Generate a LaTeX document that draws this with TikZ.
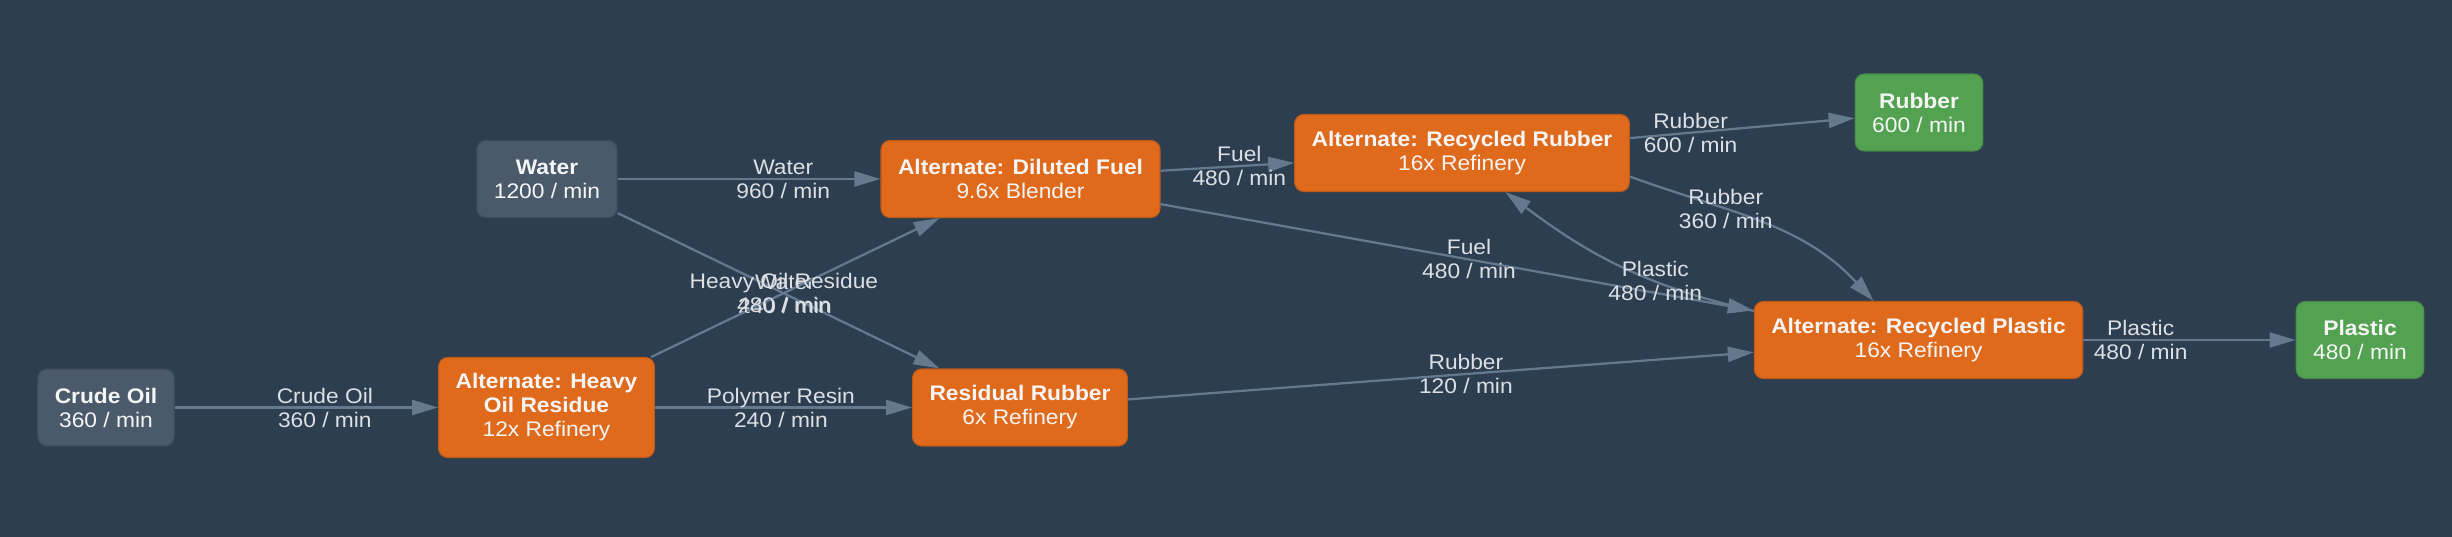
\documentclass[tikz,border=0pt]{standalone}
\usepackage{fontspec}
\setmainfont{Liberation Sans}[FakeStretch=1.08]
\usetikzlibrary{arrows.meta}

\definecolor{bgdark}{RGB}{44,62,80}
\definecolor{srcgray}{RGB}{74,90,106}
\definecolor{recipeorange}{RGB}{224,106,28}
\definecolor{sinkgreen}{RGB}{82,162,82}
\definecolor{flowline}{RGB}{100,120,142}
\definecolor{nodetext}{RGB}{245,245,245}
\definecolor{ratetext}{RGB}{220,224,228}

\begin{document}
\begin{tikzpicture}[x=0.02cm,y=0.02cm,
  box/.style={rounded corners=0.18cm, align=center, inner xsep=0.34cm, inner ysep=0pt,
    minimum height=1.54cm, line width=0.6pt, text=nodetext, font=\fontsize{12}{13.66}\selectfont},
  srcbox/.style={box, fill=srcgray, draw=srcgray!85!black},
  recipe/.style={box, fill=recipeorange, draw=recipeorange!85!black},
  sinkbox/.style={box, fill=sinkgreen, draw=sinkgreen!85!black},
  flow/.style={draw=flowline, line width=1.3pt, -{Triangle[length=0.52cm,width=0.3cm]}},
  rate/.style={align=center, text=ratetext, font=\fontsize{12}{13.66}\selectfont}]

% Background
\fill[bgdark] (0,0) rectangle (2452,537);

% Inputs
\node[srcbox] (crude) at (106,129.5) {\textbf{Crude Oil}\\360 / min};
\node[srcbox] (water) at (547,358) {\textbf{Water}\\1200 / min};

% Recipes
\node[recipe,minimum height=2cm] (heavy) at (546.5,129.5) {\textbf{Alternate: Heavy}\\\textbf{Oil Residue}\\12x Refinery};
\node[recipe] (dilfuel) at (1020.5,358) {\textbf{Alternate: Diluted Fuel}\\9.6x Blender};
\node[recipe] (resrubber) at (1020,129.5) {\textbf{Residual Rubber}\\6x Refinery};
\node[recipe] (recrubber) at (1462,384) {\textbf{Alternate: Recycled Rubber}\\16x Refinery};
\node[recipe] (recplastic) at (1918.5,197) {\textbf{Alternate: Recycled Plastic}\\16x Refinery};

% Outputs
\node[sinkbox] (rubber) at (1919,424.5) {\textbf{Rubber}\\600 / min};
\node[sinkbox] (plastic) at (2360,197) {\textbf{Plastic}\\480 / min};

% Flows
\draw[flow] (crude) -- (heavy) node[rate,pos=0.57] {Crude Oil\\360 / min};
\draw[flow] (water) -- (dilfuel) node[rate,pos=0.63] {Water\\960 / min};
\draw[flow] (water) -- (resrubber) node[rate,pos=0.52] {Water\\240 / min};
\draw[flow] (heavy) -- (dilfuel) node[rate,pos=0.46] {Heavy Oil Residue\\480 / min};
\draw[flow] (heavy) -- (resrubber) node[rate,pos=0.49] {Polymer Resin\\240 / min};
\draw[flow] (dilfuel) -- (recrubber) node[rate,pos=0.59] {Fuel\\480 / min};
\draw[flow] (dilfuel) -- (recplastic) node[rate,pos=0.52] {Fuel\\480 / min};
\draw[flow] (recrubber) -- (rubber) node[rate,pos=0.27] {Rubber\\600 / min};
\draw[flow] (recrubber.-8) to[out=-20,in=133] node[rate,pos=0.35] {Rubber\\360 / min} (recplastic.139);
\draw[flow] (recplastic.170) to[out=167,in=-37] node[rate,pos=0.36] {Plastic\\480 / min} (recrubber.-42);
\draw[flow] (resrubber) -- (recplastic) node[rate,pos=0.54] {Rubber\\120 / min};
\draw[flow] (recplastic) -- (plastic) node[rate,pos=0.27] {Plastic\\480 / min};
\end{tikzpicture}
\end{document}
